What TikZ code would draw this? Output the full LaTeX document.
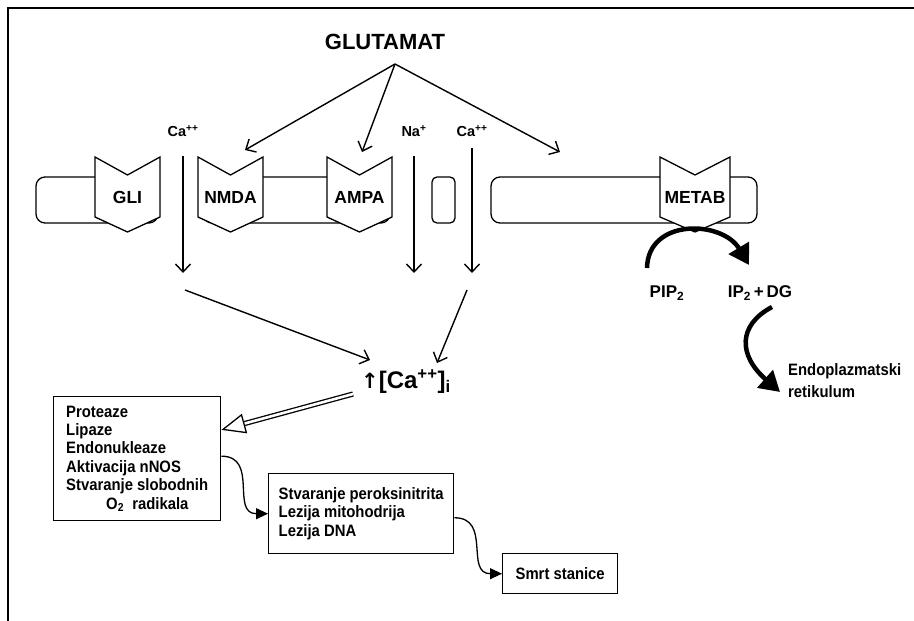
\documentclass[tikz,border=0pt]{standalone}
\usepackage{fontspec}
\setmainfont{Liberation Sans}
\newfontfamily\dvsans{DejaVu Sans}
\newfontfamily\narrowsans[FakeStretch=0.9]{Liberation Sans}
\usetikzlibrary{arrows.meta,calc}

\begin{document}
\begin{tikzpicture}[
  x=1pt,y=-1pt,
  font=\bfseries,
  membrane/.style={draw=black, line width=1.3pt, rounded corners=9pt},
  receptor/.style={draw=black, line width=1.3pt, fill=white, line join=miter},
  rlabel/.style={font=\fontsize{17.5}{17.5}\selectfont\bfseries, inner sep=0pt},
  ionlabel/.style={font=\fontsize{14.5}{14.5}\selectfont\bfseries, inner sep=1pt},
  ion/.style={draw=black, line width=1.4pt, -{Straight Barb[length=8pt,width=15pt]}},
  listbox/.style={draw=black, line width=1.4pt, align=left, anchor=north west,
    font=\narrowsans\fontsize{16.5}{18.4}\selectfont\bfseries},
  flow/.style={draw=black, line width=1.3pt, -{Triangle[length=12pt,width=11pt]}},
  dblarrow/.style={draw=black, double, double distance=2.6pt, line width=1.3pt,
    -{Triangle[open, fill=white, length=24pt, width=20pt]}},
  thickarc/.style={draw=black, line width=4.5pt, -{Triangle[length=20pt,width=23pt]}},
  pathlabel/.style={font=\fontsize{17}{17}\selectfont\bfseries}
]
\useasboundingbox (0,0) rectangle (914,621);

% Frame
\draw[line width=2.5pt] (8,640) -- (8,8) -- (930,8);

% Membrane
\draw[membrane] (36,177) rectangle (158,223);
\draw[membrane] (203,177) rectangle (390,223);
\draw[membrane, rounded corners=5pt] (432,177) rectangle (455,223);
\draw[membrane] (491,177) rectangle (757,223);

% Receptors
\foreach \cx/\w/\lab/\nm in {127.5/65/GLI/gli, 230.5/65/NMDA/nmda,
    359.5/65/AMPA/ampa, 695/70/METAB/metab} {
  \draw[receptor] (\cx-\w/2,157) -- (\cx,175) -- (\cx+\w/2,157)
    -- (\cx+\w/2,217) -- (\cx,232) -- (\cx-\w/2,217) -- cycle;
  \node[rlabel] (\nm) at (\cx,197) {\lab};
}

% Glutamate
\node[font=\fontsize{22}{22}\selectfont\bfseries] (glutamat) at (385,42) {GLUTAMAT};
\coordinate (glusrc) at (395,64);
\coordinate (nmdatip) at (245,150);
\coordinate (ampatip) at (362,152);
\coordinate (metabtip) at (560,152);
\draw[ion] (glusrc) -- (nmdatip);
\draw[ion] (glusrc) -- (ampatip);
\draw[ion] (glusrc) -- (metabtip);

% Ion influx
\node[ionlabel] (ca1) at (183,131) {Ca\textsuperscript{++}};
\node[ionlabel] (na) at (414,131) {Na\textsuperscript{+}};
\node[ionlabel] (ca2) at (472,131) {Ca\textsuperscript{++}};
\coordinate (ca1end) at (183,273);
\coordinate (naend) at (414,273);
\coordinate (ca2end) at (472,273);
\draw[ion, shorten <=18pt] (ca1.south) -- (ca1end);
\draw[ion, shorten <=18pt] (na.south) -- (naend);
\draw[ion, shorten <=10pt] (ca2.south) -- (ca2end);

% Intracellular calcium
\node[font=\fontsize{24}{24}\selectfont\bfseries, inner sep=1pt] (cai) at (406,382)
  {{\dvsans\fontsize{21}{21}\selectfont ↑}[Ca\textsuperscript{++}]\textsubscript{i}};
\coordinate (ca1from) at (185,290);
\coordinate (ca2from) at (467,290);
\coordinate (caitip1) at (370,360);
\coordinate (caitip2) at (437,363);
\draw[ion] (ca1from) -- (caitip1);
\draw[ion] (ca2from) -- (caitip2);

% Cascade
\node[listbox, inner xsep=12pt, minimum width=167pt, minimum height=124pt] (enzymes)
  at (53,396) {Proteaze\\Lipaze\\Endonukleaze\\Aktivacija nNOS\\Stvaranje slobodnih\\
  \hspace*{40pt}O\textsubscript{2}\ \ radikala};
\node[listbox, inner xsep=10pt, minimum width=185pt, minimum height=80pt] (lesions)
  at (268,473) {Stvaranje peroksinitrita\\Lezija mitohodrija\\Lezija DNA};
\node[listbox, align=center, minimum width=115pt, minimum height=40pt] (death)
  at (502,553) {Smrt stanice};

\coordinate (enzin) at ($(enzymes.north east)!0.27!(enzymes.south east)$);
\coordinate (enzout) at ($(enzymes.north east)!0.48!(enzymes.south east)$);
\coordinate (lesout) at ($(lesions.north east)!0.55!(lesions.south east)$);
\draw[dblarrow] ([xshift=-7pt,yshift=-12pt]cai.west) -- (enzin);
\draw[flow] (enzout) to[out=0, in=180, looseness=1.3] (lesions.west);
\draw[flow] (lesout) to[out=0, in=180, looseness=1.3] (death.west);

% Metabotropic pathway
\node[pathlabel] (pip) at (667,293) {PIP\textsubscript{2}};
\node[pathlabel] (ipdg) at (760,293) {IP\textsubscript{2}\,+\,DG};
\node[font=\narrowsans\fontsize{16.5}{22}\selectfont\bfseries, align=left, anchor=west,
  inner sep=0pt] (er) at (788,381) {Endoplazmatski\\retikulum};
\coordinate (plcfrom) at (647,268);
\coordinate (plcto) at (749,265);
\coordinate (erfrom) at (772,307);
\coordinate (erto) at (780,392);
\draw[thickarc] (plcfrom) .. controls (648,218) and (722,220) .. (plcto);
\draw[thickarc] (erfrom) .. controls (738,325) and (738,355) .. (erto);

\end{tikzpicture}
\end{document}
